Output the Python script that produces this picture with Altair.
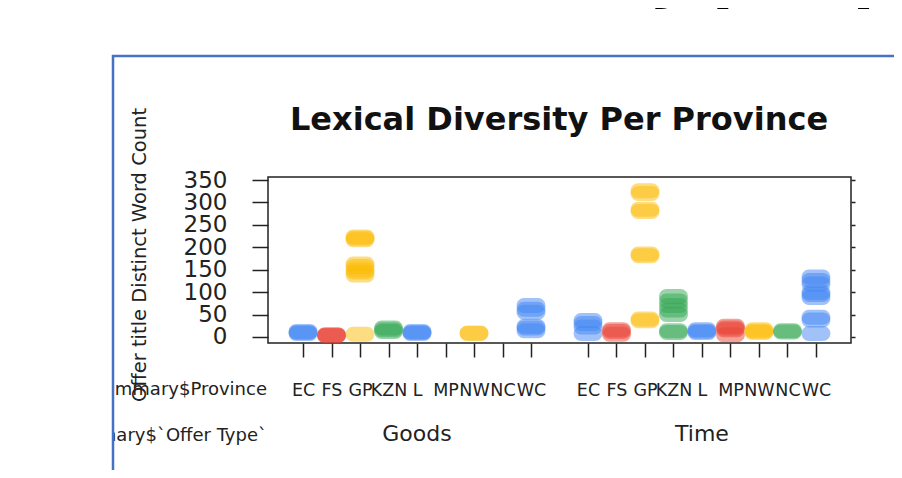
import json
import altair as alt
import pandas as pd

provinces = ["EC", "FS", "GP", "KZN", "L", "MP", "NW", "NC", "WC"]
offer_types = ["Goods", "Time"]
province_colors = ["#4285F4", "#EA4335", "#FBBC05", "#34A853", "#4285F4",
                   "#EA4335", "#FBBC05", "#34A853", "#4285F4"]

# Distinct word counts per province (order as provinces), Goods offers
goods_counts = [
    [8, 10, 12],                                  # EC
    [3, 4, 5],                                    # FS
    [6, 138, 145, 150, 157, 163, 217, 220, 223],  # GP
    [12, 16, 20],                                 # KZN
    [8, 10, 12],                                  # L
    [],                                           # MP
    [8, 9],                                       # NW
    [],                                           # NC
    [14, 20, 24, 55, 62, 70],                     # WC
]
# Time offers
time_counts = [
    [8, 22, 30, 37],                              # EC
    [6, 12, 16],                                  # FS
    [36, 40, 181, 185, 280, 285, 320, 326],       # GP
    [10, 14, 50, 60, 70, 80, 90],                 # KZN
    [10, 13, 16],                                 # L
    [5, 16, 20, 24],                              # MP
    [10, 13, 16],                                 # NW
    [11, 14],                                     # NC
    [8, 38, 44, 88, 95, 100, 118, 126, 134],      # WC
]
y_ticks = [0, 50, 100, 150, 200, 250, 300, 350]

title_text = "Lexical Diversity Per Province"
y_title_text = "Offer title Distinct Word Count"
row1_text = "summary$Province"
row2_text = "summary$`Offer Type`"
slide_title_left = "Lexical Diversity"
slide_title_right = "per province"

rows = []
for t, group in enumerate([goods_counts, time_counts]):
    for p, vals in enumerate(group):
        for v in vals:
            rows.append({"offer": offer_types[t], "province": provinces[p],
                         "pos": p + 1 + 10 * t, "count": v})
df = pd.DataFrame(rows)
groups_df = pd.DataFrame({"offer": offer_types,
                          "pos": [1 + 10 * t + (len(provinces) - 1) / 2 for t in range(len(offer_types))]})

tick_positions = [p + 1 + 10 * t for t in range(len(offer_types)) for p in range(len(provinces))]
label_expr = json.dumps(provinces) + "[(datum.value - 1) % 10]"

W, H = 583, 166
FONT = "DejaVu Sans"
xscale = alt.Scale(domain=[-0.23, 20.23], nice=False, zero=False)
yscale = alt.Scale(domain=[-13.4, 356.7], nice=False, zero=False)
xaxis = alt.Axis(values=tick_positions, labelExpr=label_expr, title=None, grid=False,
                 tickSize=14, tickWidth=1.5, tickColor="#222", domain=False,
                 labelFontSize=17.5, labelFont=FONT, labelColor="#222",
                 labelPadding=24, labelOverlap=False, labelFlush=False)

stadium = "M-0.46,-0.5L0.46,-0.5A0.5,0.5,0,0,1,0.46,0.5L-0.46,0.5A0.5,0.5,0,0,1,-0.46,-0.5Z"

points = alt.Chart(df).mark_point(filled=True, shape=stadium, size=900, opacity=0.5,
                                  strokeWidth=0).encode(
    x=alt.X("pos:Q", scale=xscale, axis=xaxis),
    y=alt.Y("count:Q", scale=yscale,
            axis=alt.Axis(orient="left", values=y_ticks, title=None, grid=False, tickSize=16,
                          tickWidth=1.5, tickColor="#222", domain=False,
                          labelFontSize=23, labelFont=FONT, labelColor="#222",
                          labelPadding=25, labelOverlap=False)),
    color=alt.Color("province:N", scale=alt.Scale(domain=provinces, range=province_colors),
                    legend=None),
)

right_ticks = alt.Chart(df).mark_point(opacity=0).encode(
    x=alt.X("pos:Q", scale=xscale, axis=xaxis),
    y=alt.Y("count:Q", scale=yscale,
            axis=alt.Axis(orient="right", values=y_ticks, title=None, grid=False,
                          labels=False, tickSize=4, tickWidth=1.5, tickColor="#222",
                          domain=False)),
)

group_labels = alt.Chart(groups_df).mark_text(fontSize=22, font=FONT, color="#222",
                                              baseline="middle", align="center").encode(
    x=alt.X("pos:Q", scale=xscale, axis=xaxis),
    y=alt.value(257),
    text="offer:N",
)

def label(text, x, y, color="#222", **kw):
    return alt.Chart(pd.DataFrame({"t": [text]})).mark_text(font=FONT, color=color, **kw).encode(
        x=alt.value(x), y=alt.value(y), text="t:N")

title = label(title_text, 291, -47, fontSize=32, fontWeight="bold", align="center",
              baseline="alphabetic", color="#111")
row1 = label(row1_text, -1, 213, fontSize=18, align="right", baseline="middle")
row2 = label(row2_text, -1, 259, fontSize=18, align="right", baseline="middle")
ytitle = label(y_title_text, -128, 78, fontSize=19.5, angle=270, align="center",
               baseline="middle")
# slide title above the picture (only its descenders are visible)
slide_l = label(slide_title_left, 422, -181, fontSize=63, fontWeight="bold", align="right",
                baseline="alphabetic", color="#000")
slide_r = label(slide_title_right, 444, -181, fontSize=63, fontWeight="bold", align="left",
                baseline="alphabetic", color="#000")

mask = alt.Chart(pd.DataFrame({"t": [0]})).mark_rect(color="white").encode(
    x=alt.value(-270), x2=alt.value(-155), y=alt.value(100), y2=alt.value(320))
border_v = alt.Chart(pd.DataFrame({"t": [0]})).mark_rule(color="#4472C4", strokeWidth=2.5).encode(
    x=alt.value(-155), y=alt.value(-122), y2=alt.value(320))
border_h = alt.Chart(pd.DataFrame({"t": [0]})).mark_rule(color="#4472C4", strokeWidth=2.5).encode(
    x=alt.value(-156), x2=alt.value(640), y=alt.value(-121))

chart = alt.layer(
    points, right_ticks, group_labels, row1, row2, mask, ytitle, title,
    slide_l, slide_r, border_v, border_h
).resolve_axis(y="independent").properties(
    width=W, height=H,
    autosize=alt.AutoSizeParams(type="none"),
    padding={"left": 260, "top": 169, "right": 43, "bottom": 127},
    background="white",
).configure_view(stroke="#222", strokeWidth=1.5)

chart.save("out.html", embed_options={"renderer": "svg", "actions": False})
